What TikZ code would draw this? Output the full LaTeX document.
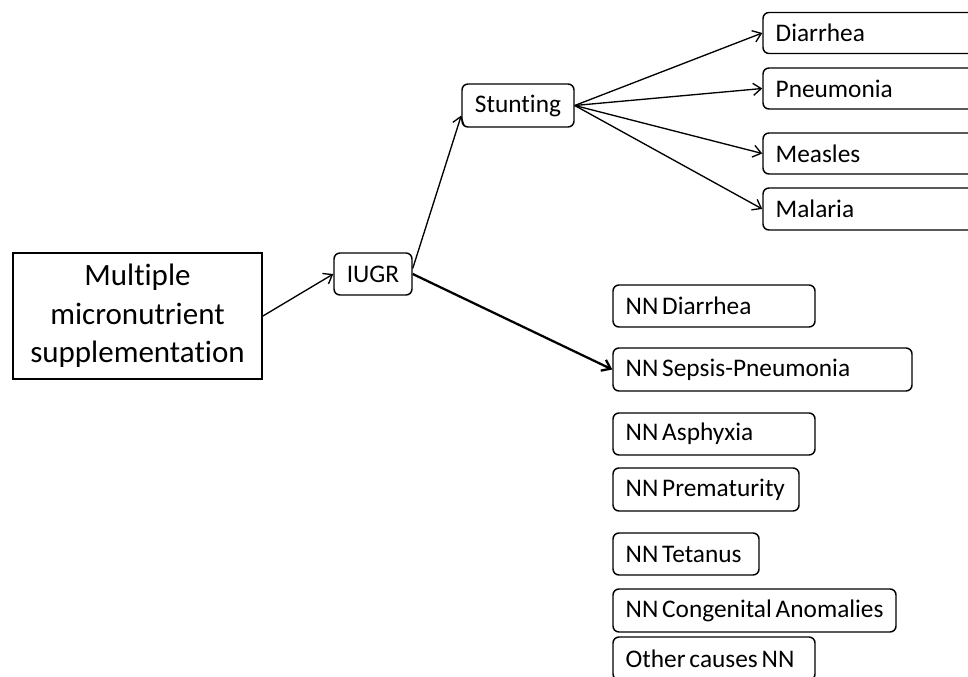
\documentclass[tikz,border=0pt]{standalone}
\usepackage{fontspec}
\setmainfont{Carlito}[Ligatures=NoCommon]
\usetikzlibrary{arrows.meta}
\begin{document}
\begin{tikzpicture}[x=0.75pt,y=-0.75pt,
  box/.style={draw, line width=1.1pt, rounded corners=4.5pt, font=\fontsize{19}{23}\selectfont,
    execute at begin node={\spaceskip=0.15em\relax}, inner xsep=9.5pt, inner ysep=0pt, align=left},
  cbox/.style={draw, line width=1.1pt, rounded corners=4.5pt, font=\fontsize{19}{23}\selectfont,
    inner sep=0pt, align=center},
  mainbox/.style={draw, line width=1.4pt, font=\fontsize{23.25}{29}\selectfont, inner sep=0pt, align=center},
  arr/.style={-{Straight Barb[length=6pt,width=9pt]}, line width=1pt},
  thickarr/.style={-{Straight Barb[length=6pt,width=9pt]}, line width=1.7pt}]
\useasboundingbox (0,0) rectangle (968,677);

\node[mainbox, minimum width=186.75pt, minimum height=94.5pt] (mms) at (137.5,316) {Multiple\\micronutrient\\supplementation};
\node[cbox, minimum width=58.5pt, minimum height=31.5pt] (iugr) at (373,274) {IUGR};
\node[cbox, minimum width=84pt, minimum height=32.25pt] (stunt) at (518,105.5) {Stunting};

\node[box, text width=158.75pt, minimum height=30.75pt] (dia) at (881.5,33) {\mbox{Diarrhea}};
\node[box, text width=158.75pt, minimum height=30.75pt] (pne) at (881.5,88.5) {\mbox{Pneumonia}};
\node[box, text width=158.75pt, minimum height=30.75pt] (mea) at (881.5,153.5) {\mbox{Measles}};
\node[box, text width=158.75pt, minimum height=31.5pt] (mal) at (881.5,209) {\mbox{Malaria}};

\node[box, text width=132.5pt, minimum height=31.5pt] (nndia) at (714,306) {\mbox{NN Diarrhea}};
\node[box, text width=205.25pt, minimum height=32.25pt] (nnsep) at (762.5,369.5) {\mbox{NN Sepsis-Pneumonia}};
\node[box, text width=132.5pt, minimum height=31.5pt] (nnasp) at (714,434) {\mbox{NN Asphyxia}};
\node[box, text width=120.5pt, minimum height=32.25pt] (nnpre) at (706,489.5) {\mbox{NN Prematurity}};
\node[box, text width=90.5pt, minimum height=31.5pt] (nntet) at (686,554) {\mbox{NN Tetanus}};
\node[box, text width=193.25pt, minimum height=32.25pt] (nncon) at (754.5,610.5) {\mbox{NN Congenital Anomalies}};
\node[box, text width=132.5pt, minimum height=32.25pt] (nnoth) at (714,658.5) {\mbox{Other causes NN}};

\draw[arr] (mms.east) -- (iugr.west);
\draw[arr] (iugr.8) -- (stunt.190);
\draw[thickarr] (iugr.east) -- (nnsep.west);
\draw[arr] (stunt.east) -- (dia.west);
\draw[arr] (stunt.east) -- (pne.west);
\draw[arr] (stunt.east) -- (mea.west);
\draw[arr] (stunt.east) -- (mal.west);
\end{tikzpicture}
\end{document}
